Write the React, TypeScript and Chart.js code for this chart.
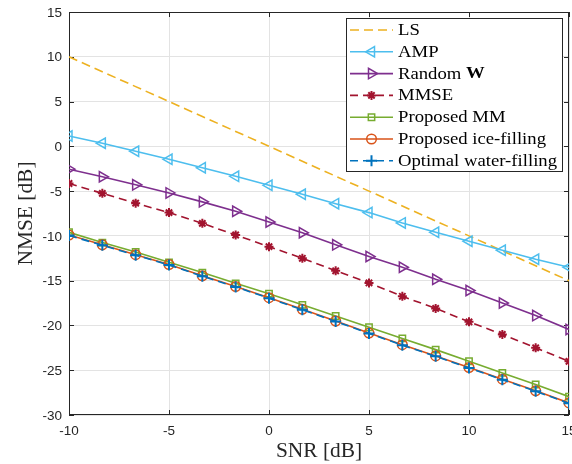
import React, { useEffect, useRef } from 'react';
import { Chart, registerables } from 'chart.js';
import { drawPoint } from 'chart.js/helpers';

Chart.register(...registerables);

// ---- data ----
const snr = [-10, -8.333, -6.667, -5, -3.333, -1.667, 0, 1.667, 3.333, 5, 6.667, 8.333, 10, 11.667, 13.333, 15];
const lsVals = [10, 8.333, 6.667, 5, 3.333, 1.667, 0, -1.667, -3.333, -5, -6.667, -8.333, -10, -11.667, -13.333, -15];
const ampVals = [1.15, 0.35, -0.55, -1.45, -2.4, -3.35, -4.35, -5.35, -6.4, -7.4, -8.55, -9.6, -10.6, -11.6, -12.6, -13.5];
const randomWVals = [-2.55, -3.4, -4.3, -5.2, -6.2, -7.25, -8.45, -9.65, -11.0, -12.3, -13.5, -14.85, -16.1, -17.5, -18.9, -20.45];
const mmseVals = [-4.15, -5.25, -6.35, -7.4, -8.6, -9.9, -11.2, -12.5, -13.9, -15.25, -16.75, -18.1, -19.6, -21.0, -22.5, -24.0];
const mmVals = [-9.6, -10.75, -11.8, -12.95, -14.1, -15.3, -16.45, -17.7, -18.95, -20.2, -21.45, -22.7, -24.0, -25.3, -26.6, -27.95];
const iceVals = [-9.9, -11.0, -12.1, -13.2, -14.45, -15.65, -16.9, -18.2, -19.5, -20.85, -22.15, -23.4, -24.7, -26.0, -27.3, -28.65];
const waterVals = [-9.95, -11.05, -12.15, -13.25, -14.5, -15.7, -16.95, -18.25, -19.55, -20.9, -22.2, -23.45, -24.75, -26.05, -27.35, -28.7];

const seriesLabels = ['LS', 'AMP', 'Random W', 'MMSE', 'Proposed MM', 'Proposed ice-filling', 'Optimal water-filling'];
const xTicks = [-10, -5, 0, 5, 10, 15];
const yTicks = [-30, -25, -20, -15, -10, -5, 0, 5, 10, 15];
const xTitle = 'SNR [dB]';
const yTitle = 'NMSE [dB]';

const SERIF = '"Liberation Serif", "Times New Roman", serif';
const SANS = '"Liberation Sans", Helvetica, Arial, sans-serif';
const AXIS = '#262626';

function pts(vals: number[]) {
  return vals.map((v, i) => ({ x: snr[i], y: v }));
}

function drawStretched(ctx: CanvasRenderingContext2D, text: string, x: number, y: number, sx: number) {
  ctx.save();
  ctx.translate(x, y);
  ctx.scale(sx, 1);
  ctx.fillText(text, 0, 0);
  const w = ctx.measureText(text).width * sx;
  ctx.restore();
  return w;
}

function noPad(s: any) {
  s.paddingLeft = 0;
  s.paddingRight = 0;
  s.paddingTop = 0;
  s.paddingBottom = 0;
}

const framePlugin = {
  id: 'matlabFrame',
  beforeDatasetsDraw(chart: any) {
    const { ctx, chartArea: a, scales } = chart;
    ctx.save();
    // tick labels
    ctx.fillStyle = AXIS;
    ctx.font = `13.5px ${SANS}`;
    ctx.textAlign = 'center';
    ctx.textBaseline = 'middle';
    xTicks.forEach((v) => {
      ctx.fillText(String(v), scales.x.getPixelForValue(v), a.bottom + 16.5);
    });
    ctx.textAlign = 'right';
    yTicks.forEach((v) => {
      ctx.fillText(String(v), a.left - 7, scales.y.getPixelForValue(v) + 1);
    });
    // frame
    ctx.strokeStyle = AXIS;
    ctx.lineWidth = 1;
    ctx.setLineDash([]);
    ctx.strokeRect(a.left + 0.5, a.top + 0.5, a.right - a.left - 1, a.bottom - a.top - 1);
    const tl = 5;
    ctx.beginPath();
    xTicks.forEach((v) => {
      const px = Math.round(scales.x.getPixelForValue(v)) + 0.5;
      ctx.moveTo(px, a.bottom);
      ctx.lineTo(px, a.bottom - tl);
      ctx.moveTo(px, a.top);
      ctx.lineTo(px, a.top + tl);
    });
    yTicks.forEach((v) => {
      const py = Math.round(scales.y.getPixelForValue(v)) + 0.5;
      ctx.moveTo(a.left, py);
      ctx.lineTo(a.left + tl, py);
      ctx.moveTo(a.right, py);
      ctx.lineTo(a.right - tl, py);
    });
    ctx.stroke();
    ctx.restore();
  },
  afterDraw(chart: any) {
    const { ctx, chartArea: a } = chart;
    ctx.save();
    // axis titles
    ctx.fillStyle = AXIS;
    ctx.font = `20px ${SERIF}`;
    ctx.textBaseline = 'alphabetic';
    ctx.textAlign = 'left';
    const sxT = 1.07;
    const wx = ctx.measureText(xTitle).width * sxT;
    drawStretched(ctx, xTitle, (a.left + a.right) / 2 - wx / 2, 456.5, sxT);
    ctx.save();
    ctx.translate(31.5, (a.top + a.bottom) / 2);
    ctx.rotate(-Math.PI / 2);
    const wy = ctx.measureText(yTitle).width * sxT;
    drawStretched(ctx, yTitle, -wy / 2, 0, sxT);
    ctx.restore();

    // legend
    const bx = 346, by = 18, bw = 216, bh = 153;
    ctx.fillStyle = '#ffffff';
    ctx.fillRect(bx, by, bw, bh);
    ctx.strokeStyle = AXIS;
    ctx.lineWidth = 1;
    ctx.strokeRect(bx + 0.5, by + 0.5, bw, bh);
    const rowH = 21.8;
    const y0 = 30;
    const lx0 = 350, lx1 = 393, tx = 398;
    const sxL = 1.1;
    chart.data.datasets.forEach((ds: any, i: number) => {
      const yy = y0 + i * rowH;
      ctx.save();
      ctx.strokeStyle = ds.borderColor;
      ctx.lineWidth = ds.borderWidth;
      ctx.setLineDash(ds.borderDash || []);
      ctx.beginPath();
      ctx.moveTo(lx0, yy);
      ctx.lineTo(lx1, yy);
      ctx.stroke();
      ctx.setLineDash([]);
      if (ds.pointRadius > 0) {
        ctx.fillStyle = 'rgba(0,0,0,0)';
        ctx.strokeStyle = ds.borderColor;
        ctx.lineWidth = ds.pointBorderWidth;
        drawPoint(ctx, {
          pointStyle: ds.pointStyle,
          radius: ds.pointRadius,
          rotation: ds.pointRotation || 0,
          borderWidth: ds.pointBorderWidth,
        } as any, (lx0 + lx1) / 2, yy);
      }
      ctx.restore();
      ctx.fillStyle = '#000000';
      ctx.textBaseline = 'middle';
      ctx.textAlign = 'left';
      const label: string = ds.label;
      if (label === 'Random W') {
        ctx.font = `17px ${SERIF}`;
        const w = drawStretched(ctx, 'Random ', tx, yy + 0.5, sxL);
        ctx.font = `bold 17px ${SERIF}`;
        drawStretched(ctx, 'W', tx + w, yy + 0.5, sxL);
      } else {
        ctx.font = `17px ${SERIF}`;
        drawStretched(ctx, label, tx, yy + 0.5, sxL);
      }
    });
    ctx.restore();
  },
};

export default function App() {
  const ref = useRef<HTMLCanvasElement | null>(null);
  useEffect(() => {
    const canvas = ref.current;
    if (!canvas) return;
    const common = { fill: false, tension: 0, borderWidth: 1.6, pointBackgroundColor: 'rgba(0,0,0,0)' };
    const chart = new Chart(canvas, {
      type: 'line',
      data: {
        datasets: [
          { ...common, label: seriesLabels[0], data: pts(lsVals), borderColor: '#EDB120', borderDash: [9, 5], pointRadius: 0, order: 6 },
          { ...common, label: seriesLabels[1], data: pts(ampVals), borderColor: '#4DBEEE', pointBorderColor: '#4DBEEE', pointStyle: 'triangle', pointRotation: -90, pointRadius: 6, pointBorderWidth: 1.5, order: 5 },
          { ...common, label: seriesLabels[2], data: pts(randomWVals), borderColor: '#7E2F8E', pointBorderColor: '#7E2F8E', pointStyle: 'triangle', pointRotation: 90, pointRadius: 6, pointBorderWidth: 1.5, order: 4 },
          { ...common, label: seriesLabels[3], data: pts(mmseVals), borderColor: '#A2142F', pointBorderColor: '#A2142F', borderDash: [8, 5], pointStyle: 'star', pointRadius: 4.5, pointBorderWidth: 2, order: 3 },
          { ...common, label: seriesLabels[4], data: pts(mmVals), borderColor: '#77AC30', pointBorderColor: '#77AC30', pointStyle: 'rect', pointRadius: 4.5, pointBorderWidth: 1.5, order: 2 },
          { ...common, label: seriesLabels[5], data: pts(iceVals), borderColor: '#D95319', pointBorderColor: '#D95319', pointStyle: 'circle', pointRadius: 4.8, pointBorderWidth: 1.5, order: 1 },
          { ...common, label: seriesLabels[6], data: pts(waterVals), borderColor: '#0072BD', pointBorderColor: '#0072BD', borderDash: [8, 5], pointStyle: 'cross', pointRadius: 5.5, pointBorderWidth: 2, order: 0 },
        ] as any,
      },
      options: {
        animation: false,
        responsive: false,
        devicePixelRatio: 1,
        layout: { autoPadding: false, padding: { top: 12, right: 3, left: 0, bottom: 0 } },
        plugins: { legend: { display: false }, tooltip: { enabled: false }, title: { display: false } },
        scales: {
          x: {
            type: 'linear',
            min: -10,
            max: 15,
            afterBuildTicks: (s: any) => { s.ticks = xTicks.map((v) => ({ value: v })); },
            afterFit: (s: any) => { s.height = 49; noPad(s); },
            ticks: { display: false },
            grid: { color: '#e3e3e3', lineWidth: 1, drawTicks: false },
            border: { display: false },
          },
          y: {
            type: 'linear',
            min: -30,
            max: 15,
            afterBuildTicks: (s: any) => { s.ticks = yTicks.map((v) => ({ value: v })); },
            afterFit: (s: any) => { s.width = 69; noPad(s); },
            ticks: { display: false },
            grid: { color: '#e3e3e3', lineWidth: 1, drawTicks: false },
            border: { display: false },
          },
        },
      } as any,
      plugins: [framePlugin],
    });
    return () => chart.destroy();
  }, []);
  return (
    <div style={{ position: 'fixed', left: 0, top: 0, width: 572, height: 464, background: '#fff' }}>
      <canvas ref={ref} width={572} height={464} style={{ display: 'block' }} />
    </div>
  );
}
